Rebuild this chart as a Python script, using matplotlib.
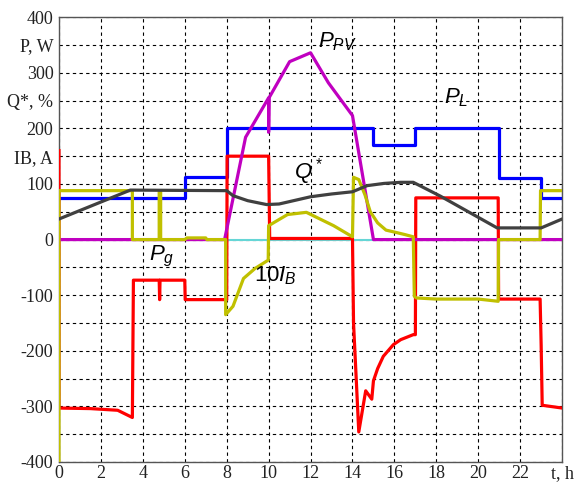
import matplotlib.pyplot as plt

plt.rcParams['mathtext.fontset'] = 'custom'
plt.rcParams['mathtext.it'] = 'Liberation Sans:italic'
plt.rcParams['mathtext.rm'] = 'Liberation Sans'

# P_L (load power), step profile
t_pl = [0, 6, 6, 8, 8, 15, 15, 17, 17, 21, 21, 23, 23, 24]
p_pl = [75, 75, 112, 112, 200, 200, 171, 171, 200, 200, 110, 110, 75, 75]

# P_PV
t_pv = [0, 7.9, 8.9, 10.0, 10.0, 10.02, 11.0, 12.0, 12.85, 14.0, 15.0, 24]
p_pv = [0, 0, 184, 255, 193, 255, 320, 336, 282, 223, 0, 0]

# P_g (grid power)
t_pg = [0, 0, 1.5, 2.8, 3.5, 3.55, 4.78, 4.8, 4.82, 6.0, 6.02, 8.0, 8.02,
        10.0, 10.05, 14.0, 14.05, 14.3, 14.63, 14.92, 15.0, 15.2, 15.47,
        15.95, 16.3, 16.9, 17.0, 17.02, 20.95, 20.97, 22.95, 23.0, 23.05, 24]
p_pg = [160, -303, -304, -307, -320, -73, -73, -108, -73, -73, -108, -108, 150,
        150, 2, 2, -150, -346, -272, -287, -254, -232, -210,
        -189, -180, -171, -171, 75, 75, -107, -107, -190, -298, -303]

# 10*I_B (battery current)
t_ib = [0, 0, 3.5, 3.5, 4.78, 4.78, 4.85, 4.85, 6.0, 6.1, 7.0, 7.05, 7.95, 7.95,
        8.3, 8.8, 9.35, 9.98, 10.0, 10.9, 11.8, 13.1, 14.0, 14.05, 14.3,
        14.6, 14.85, 15.2, 15.6, 15.95, 16.5, 16.9, 16.95, 17.05, 18.0, 20.0,
        20.95, 20.97, 22.95, 22.97, 24]
p_ib = [-400, 88, 88, 0, 0, 88, 88, 0, 0, 3, 3, 0, 0, -135,
        -120, -70, -52, -37, 25, 45, 49, 25, 5, 112, 108,
        80, 50, 30, 17, 14, 9, 5, -102, -105, -107, -107,
        -111, 0, 0, 88, 88]

# Q* (state of charge)
t_q = [0, 3.4, 8.0, 8.3, 9.0, 9.9, 10.5, 12, 13, 14, 14.7, 15.5, 16.3, 16.9,
       18.2, 20.9, 23.0, 24]
p_q = [37, 89, 88, 79, 70, 63, 64, 77, 82, 86, 97, 101, 103, 103,
       78, 21, 21, 37]

t_cy = [8, 15]
p_cy = [0, 0]

yticks = list(range(400, -401, -50))
ylabels = ['400', 'P, W', '300', 'Q*, %', '200', 'IB, A', '100', '', '0', '',
           '-100', '', '-200', '', '-300', '', '-400']
xticks = list(range(0, 25, 2))
xlabels = [str(x) for x in range(0, 24, 2)] + ['t, h']

fig = plt.figure(figsize=(5.75, 4.84), dpi=100)
ax = fig.add_axes([0.1026, 0.0455, 0.875, 0.919])

lw = 2.3
ax.plot(t_cy, p_cy, color='#66d6d6', lw=1.5, zorder=2)
ax.plot(t_pl, p_pl, color='#0000ff', lw=lw, zorder=3)
ax.plot(t_pg, p_pg, color='#ff0000', lw=lw, zorder=4)
ax.plot(t_pv, p_pv, color='#c000c0', lw=lw, zorder=5)
ax.plot(t_ib, p_ib, color='#c0c000', lw=lw, zorder=6)
ax.plot(t_q, p_q, color='#404040', lw=lw, zorder=7)

ax.set_xlim(0, 24)
ax.set_ylim(-400, 400)
ax.set_xticks(xticks)
ax.set_xticklabels(xlabels)
ax.set_yticks(yticks)
ax.set_yticklabels(ylabels)
ax.tick_params(length=0, labelsize=13, colors='#222222')
ax.tick_params(axis='y', pad=4)
ax.tick_params(axis='x', pad=2)
for lab in ax.get_xticklabels() + ax.get_yticklabels():
    lab.set_family('Liberation Serif')
ax.grid(True, color='black', ls=(0, (3, 3)), lw=0.8)
for s in ax.spines.values():
    s.set_color('#555555')
    s.set_linewidth(1)

fs = 16
ax.text(12.35, 345, r'$P_{PV}$', fontsize=fs, zorder=10)
ax.text(18.35, 245, r'$P_L$', fontsize=fs, zorder=10)
ax.text(11.2, 110, r'$Q^*$', fontsize=fs, zorder=10)
ax.text(4.3, -38, r'$P_g$', fontsize=fs, zorder=10)
ax.text(9.3, -75, r'$10I_B$', fontsize=fs, zorder=10)

fig.savefig('out.png', dpi=100)
